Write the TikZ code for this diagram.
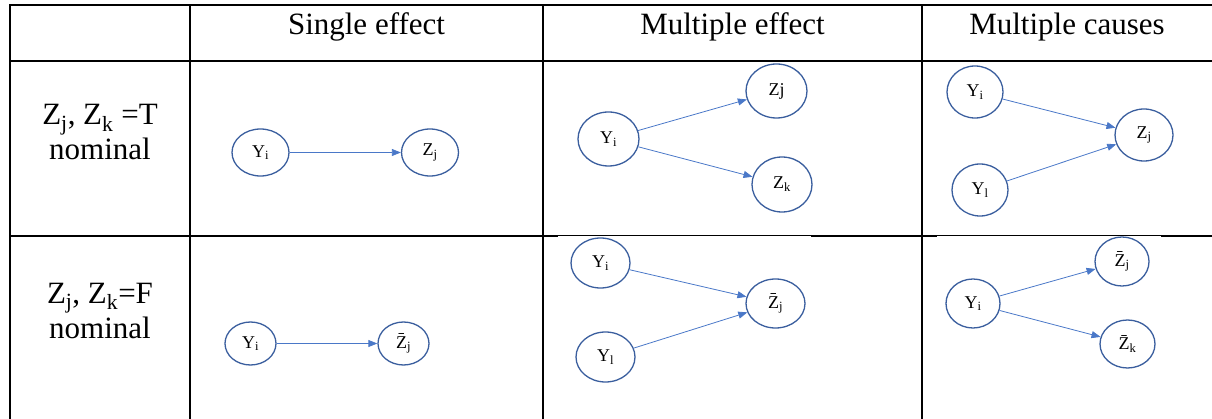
\documentclass[tikz,border=0pt]{standalone}
\usepackage{fontspec}
\setmainfont{Liberation Serif}
\usetikzlibrary{arrows.meta,shapes.geometric}
\definecolor{eventblue}{HTML}{3A5E9E}
\definecolor{arrowblue}{HTML}{4A78C8}
\tikzset{
    rule/.style      = {line width=2.6pt, line cap=rect},
    thin rule/.style = {line width=1pt},
    head/.style      = {anchor=base, font=\fontsize{31}{35}\selectfont},
    rowlabel/.style  = {anchor=base, align=center, inner sep=0pt,
                        font=\fontsize{31}{35}\selectfont},
    event/.style     = {draw=eventblue, line width=1.3pt, ellipse, fill=white,
                        inner sep=0pt, minimum width=58pt, minimum height=51pt,
                        font=\fontsize{18}{20}\selectfont},
    cause/.style     = {draw=arrowblue, line width=0.8pt,
                        -{Triangle[length=9pt,width=7pt]}}
}

\begin{document}
\begin{tikzpicture}[x=1pt, y=-1pt]
\useasboundingbox (0,0) rectangle (1212,419);

% ================= Table rules =================
\draw[thin rule] (557,236) -- (1212,236);
\draw[rule] (10,236) -- (557,236);
\draw[rule] (812,236) -- (936,236);
\draw[rule] (1162,236) -- (1212,236);
\draw[rule] (10,5) -- (1212,5);
\draw[rule] (10,61) -- (1212,61);
\foreach \x in {10,190,543,922}
    \draw[rule] (\x,5) -- (\x,419);

% ================= Headers =================
\node[head] (single) at (366.5,35) {Single effect};
\node[head] (multeff) at (732.5,35) {Multiple effect};
\node[head] (multcause) at (1067,35) {Multiple causes};

\node[rowlabel] (nomT) at (100,160)
    {Z\textsubscript{j}, Z\textsubscript{k} =T\\nominal};
\node[rowlabel] (nomF) at (100,338)
    {Z\textsubscript{j}, Z\textsubscript{k}=F\\nominal};

% ================= Nominal T =================
\node[event, minimum width=57pt, minimum height=47pt]
    (sYi) at (260.5,152.5) {Y\textsubscript{i}};
\node[event, minimum width=57pt, minimum height=47pt]
    (sZj) at (430,152.5) {Z\textsubscript{j}};
\draw[cause] (sYi) -- (sZj);

\node[event, minimum width=61pt, minimum height=54pt]
    (eYi) at (608.5,139) {Y\textsubscript{i}};
\node[event, minimum width=61pt, minimum height=54pt]
    (eZj) at (776.5,91) {Zj};
\node[event, minimum width=60pt, minimum height=55pt]
    (eZk) at (782,184.5) {Z\textsubscript{k}};
\draw[cause] (eYi) -- (eZj);
\draw[cause] (eYi) -- (eZk);

\node[event, minimum width=56pt, minimum height=52pt]
    (cYi) at (975,92) {Y\textsubscript{i}};
\node[event, minimum width=56pt, minimum height=52pt]
    (cYl) at (980,190) {Y\textsubscript{l}};
\node[event, minimum width=58pt, minimum height=52pt]
    (cZj) at (1144,135) {Z\textsubscript{j}};
\draw[cause] (cYi) -- (cZj);
\draw[cause] (cYl) -- (cZj);

% ================= Nominal F =================
\node[event, minimum width=51pt, minimum height=43pt]
    (fsYi) at (250.5,343.5) {Y\textsubscript{i}};
\node[event, minimum width=51pt, minimum height=43pt]
    (fsZj) at (403.5,343.5) {\={Z}\textsubscript{j}};
\draw[cause] (fsYi) -- (fsZj);

\node[event, minimum width=59pt, minimum height=50pt]
    (fcYi) at (600.5,263) {Y\textsubscript{i}};
\node[event, minimum width=59pt, minimum height=50pt]
    (fcYl) at (605.5,357) {Y\textsubscript{l}};
\node[event, minimum width=59pt, minimum height=49pt]
    (fcZj) at (775.5,303.5) {\={Z}\textsubscript{j}};
\draw[cause] (fcYi) -- (fcZj);
\draw[cause] (fcYl) -- (fcZj);

\node[event, minimum width=54pt, minimum height=49pt]
    (feYi) at (973,303.5) {Y\textsubscript{i}};
\node[event, minimum width=54pt, minimum height=49pt]
    (feZj) at (1122,261.5) {\={Z}\textsubscript{j}};
\node[event, minimum width=55pt, minimum height=48pt]
    (feZk) at (1127.5,344) {\={Z}\textsubscript{k}};
\draw[cause] (feYi) -- (feZj);
\draw[cause] (feYi) -- (feZk);

\end{tikzpicture}
\end{document}
